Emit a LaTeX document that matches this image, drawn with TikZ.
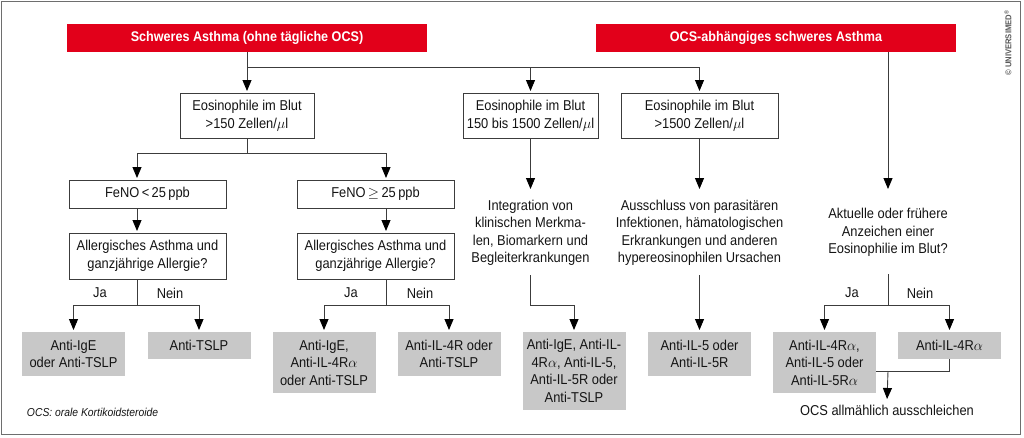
\documentclass[tikz,border=0pt]{standalone}
\usepackage{fontspec}
\setmainfont{Liberation Sans}[FakeStretch=0.9]
\usetikzlibrary{arrows.meta}
\definecolor{redbox}{RGB}{226,0,26}
\definecolor{graybox}{RGB}{200,200,200}
\definecolor{linegray}{RGB}{60,60,60}
\definecolor{framegray}{RGB}{110,110,110}
\definecolor{txt}{RGB}{20,20,20}
\begin{document}
\begin{tikzpicture}[x=1pt,y=-1pt,
  every node/.style={font=\fontsize{14.3}{17.5}\selectfont, text=txt, inner sep=0pt, outer sep=0pt},
  redhead/.style={fill=redbox, text=white, font=\fontsize{14}{17.5}\selectfont\bfseries, minimum width=360pt, minimum height=28pt},
  wbox/.style={draw=linegray, line width=0.9pt, fill=white, align=center, minimum height=#1},
  gbox/.style={fill=graybox, align=center, minimum width=103pt, minimum height=#1, anchor=north},
  plain/.style={align=center, minimum height=#1},
  conn/.style={draw=linegray, line width=0.9pt},
  conarr/.style={conn, -{Triangle[width=9pt,length=11pt,color=black]}, shorten >=2pt},
  lab/.style={font=\fontsize{14.3}{17.5}\selectfont}
]
\useasboundingbox (0,0) rectangle (1024,437);
\draw[framegray, line width=1.5pt] (1.5,1.5) rectangle (1020.5,434.5);

% headers
\node[redhead] (red1) at (247,38) {Schweres Asthma (ohne tägliche OCS)};
\node[redhead] (red2) at (776,38) {OCS-abhängiges schweres Asthma};

% eosinophil boxes
\node[wbox=45pt, minimum width=134pt] (eos1) at (247,115.5) {Eosinophile im Blut\\>150 Zellen/$\mu$l};
\node[wbox=45pt, minimum width=135pt] (eos2) at (530.5,115.5) {Eosinophile im Blut\\150 bis 1500 Zellen/$\mu$l};
\node[wbox=45pt, minimum width=157pt] (eos3) at (699.5,115.5) {Eosinophile im Blut\\>1500 Zellen/$\mu$l};

% FeNO and allergy boxes
\node[wbox=28pt, minimum width=157pt] (feno1) at (147.5,194) {FeNO\,<\,25\,ppb};
\node[wbox=28pt, minimum width=157pt] (feno2) at (375.5,194) {FeNO\,$\geq$\,25\,ppb};
\node[wbox=46pt, minimum width=157pt] (allg1) at (147.5,256) {Allergisches Asthma und\\ganzjährige Allergie?};
\node[wbox=46pt, minimum width=157pt] (allg2) at (375.5,256) {Allergisches Asthma und\\ganzjährige Allergie?};

% plain text steps
\node[plain=84pt] (integ) at (530.5,233) {Integration von\\klinischen Merkma-\\len, Biomarkern und\\Begleiterkrankungen};
\node[plain=84pt] (aus) at (699.5,233) {Ausschluss von parasitären\\Infektionen, hämatologischen\\Erkrankungen und anderen\\hypereosinophilen Ursachen};
\node[plain=83pt] (akt) at (888,232.5) {Aktuelle oder frühere\\Anzeichen einer\\Eosinophilie im Blut?};

% result boxes
\node[gbox=44pt] (r1) at (73.5,332) {Anti-IgE\\oder Anti-TSLP};
\node[gbox=27pt] (r2) at (199,332) {Anti-TSLP};
\node[gbox=61pt] (r3) at (324,332) {Anti-IgE,\\Anti-IL-4R$\alpha$\\oder Anti-TSLP};
\node[gbox=44pt] (r4) at (449,332) {Anti-IL-4R oder\\Anti-TSLP};
\node[gbox=78pt] (r5) at (574,332) {Anti-IgE, Anti-IL-\\4R$\alpha$, Anti-IL-5,\\Anti-IL-5R oder\\Anti-TSLP};
\node[gbox=44pt] (r6) at (699.5,332) {Anti-IL-5 oder\\Anti-IL-5R};
\node[gbox=61pt] (r7) at (824.5,332) {Anti-IL-4R$\alpha$,\\Anti-IL-5 oder\\Anti-IL-5R$\alpha$};
\node[gbox=27pt] (r8) at (949.5,332) {Anti-IL-4R$\alpha$};

\node[anchor=north, inner ysep=4pt] (ocs) at (887,401) {OCS allmählich ausschleichen};

% Ja / Nein labels
\node[lab] (ja1) at (100,293) {Ja};
\node[lab] (nein1) at (170,293) {Nein};
\node[lab] (ja2) at (351,293) {Ja};
\node[lab] (nein2) at (420,293) {Nein};
\node[lab] (ja3) at (852,293) {Ja};
\node[lab] (nein3) at (920,293) {Nein};

% footnote and copyright
\node[anchor=west, font=\fontsize{11.5}{13}\selectfont\itshape] (fn) at (27,412) {OCS: orale Kortikoidsteroide};
\node[rotate=90, font=\fontsize{8.5}{10}\selectfont\bfseries, text=black!65] (copy) at (1008,43) {© UNIVERSIMED\textsuperscript{®}};

% junction coordinates
\coordinate (b1) at (247,67);
\coordinate (b2) at (247,153);
\coordinate (j1) at (137,305);
\coordinate (j2) at (386,305);
\coordinate (j3) at (574,305);
\coordinate (j4) at (888,305);
\coordinate (m) at (888,371);
\coordinate (f1t) at ([xshift=-10.5pt]feno1.north);
\coordinate (f1b) at ([xshift=-10.5pt]feno1.south);
\coordinate (f2t) at ([xshift=10.5pt]feno2.north);
\coordinate (f2b) at ([xshift=10.5pt]feno2.south);
\coordinate (a1t) at ([xshift=-10.5pt]allg1.north);
\coordinate (a1b) at ([xshift=-10.5pt]allg1.south);
\coordinate (a2t) at ([xshift=10.5pt]allg2.north);
\coordinate (a2b) at ([xshift=10.5pt]allg2.south);

% connectors
\draw[conarr] (red1.south) -- (eos1.north);
\draw[conarr] (b1) -| (eos2.north);
\draw[conarr] (b1) -| (eos3.north);
\draw[conarr] (red2.south -| akt.north) -- (akt.north);

\draw[conn] (eos1.south) -- (b2);
\draw[conarr] (b2) -| (f1t);
\draw[conarr] (b2) -| (f2t);
\draw[conarr] (f1b) -- (a1t);
\draw[conarr] (f2b) -- (a2t);

\draw[conn] (a1b) -- (j1);
\draw[conarr] (j1) -| (r1.north);
\draw[conarr] (j1) -| (r2.north);
\draw[conn] (a2b) -- (j2);
\draw[conarr] (j2) -| (r3.north);
\draw[conarr] (j2) -| (r4.north);

\draw[conarr] (eos2.south) -- (integ.north);
\draw[conarr] (integ.south) |- (j3) -- (r5.north);
\draw[conarr] (eos3.south) -- (aus.north);
\draw[conarr] (aus.south) -- (r6.north);

\draw[conn] (akt.south) -- (j4);
\draw[conarr] (j4) -| (r7.north);
\draw[conarr] (j4) -| (r8.north);
\draw[conn] (r8.south) |- (r7.east |- m);
\draw[conarr] (m) -- (ocs.north);
\end{tikzpicture}
\end{document}
